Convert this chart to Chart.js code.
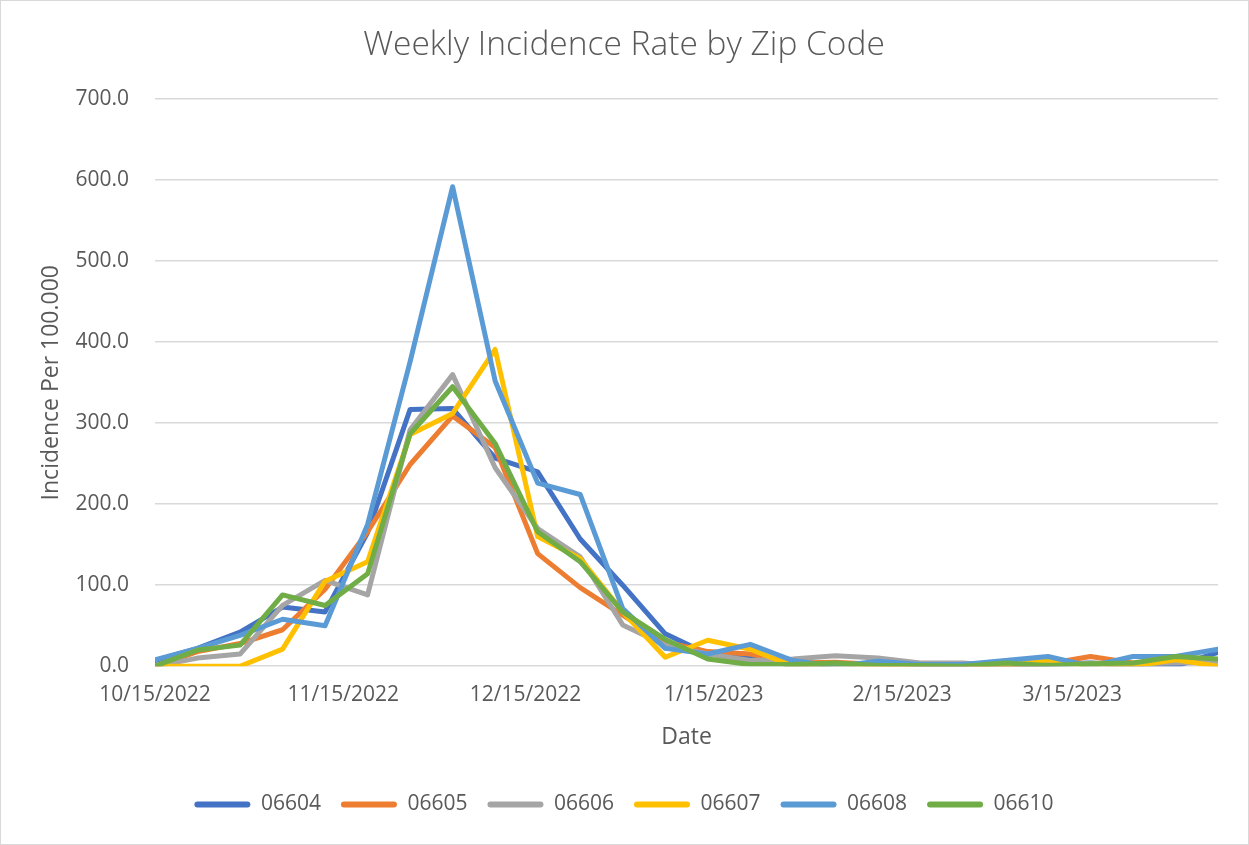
<!DOCTYPE html>
<html>
<head>
<meta charset="utf-8">
<script src="https://cdn.jsdelivr.net/npm/chart.js@4/dist/chart.umd.min.js"></script>
<style>
  html, body { margin: 0; padding: 0; background: #fff; }
  #wrap { width: 1249px; height: 845px; }
</style>
</head>
<body>
<div id="wrap"><canvas id="chart" width="1249" height="845"></canvas></div>
<script>
const weeks = ['10/15/2022', '10/22/2022', '10/29/2022', '11/5/2022', '11/12/2022', '11/19/2022', '11/26/2022',
    '12/3/2022', '12/10/2022', '12/17/2022', '12/24/2022', '12/31/2022', '1/7/2023', '1/14/2023', '1/21/2023',
    '1/28/2023', '2/4/2023', '2/11/2023', '2/18/2023', '2/25/2023', '3/4/2023', '3/11/2023', '3/18/2023',
    '3/25/2023', '4/1/2023', '4/8/2023'];
const tickDates = ['10/15/2022', '11/15/2022', '12/15/2022', '1/15/2023', '2/15/2023', '3/15/2023'];
const yTicks = [0, 100, 200, 300, 400, 500, 600, 700];

const zip06604 = [7, 22, 42, 73, 67, 165, 317, 318, 257, 240, 157, 100, 40, 15, 13, 0, 3, 3, 2, 0, 0, 2, 4, 0, 0, 17];
const zip06605 = [0, 18, 28, 45, 95, 166, 249, 309, 270, 139, 97, 63, 30, 18, 15, 4, 5, 2, 0, 0, 0, 3, 12, 4, 8, 2];
const zip06606 = [0, 10, 15, 75, 106, 88, 292, 360, 245, 170, 135, 51, 26, 15, 7, 9, 13, 10, 4, 4, 0, 2, 4, 3, 4, 5];
const zip06607 = [0, 0, 0, 21, 105, 129, 286, 312, 391, 160, 133, 67, 11, 32, 21, 0, 0, 0, 0, 0, 0, 8, 0, 0, 8, 0];
const zip06608 = [8, 22, 38, 58, 50, 175, 376, 592, 352, 226, 212, 71, 22, 15, 27, 7, 0, 6, 2, 2, 7, 12, 0, 12, 12, 21];
const zip06610 = [0, 20, 26, 88, 75, 114, 287, 345, 275, 166, 129, 67, 33, 9, 2, 2, 4, 1, 1, 0, 4, 1, 3, 4, 12, 9];

const seriesNames = ['06604', '06605', '06606', '06607', '06608', '06610'];
const seriesValues = [zip06604, zip06605, zip06606, zip06607, zip06608, zip06610];
const seriesColors = ['#4472C4', '#ED7D31', '#A5A5A5', '#FFC000', '#5B9BD5', '#70AD47'];

// m/d/yyyy -> day number
function toDay(s) {
    const [m, d, y] = s.split('/').map(Number);
    return Date.UTC(y, m - 1, d) / 86400000;
}

const textColor = '#595959';
const font = 'Open Sans';

const frame = {
    id: 'frame',
    beforeDraw(chart) {
        const c = chart.ctx;
        c.save();
        c.fillStyle = '#fff';
        c.fillRect(0, 0, chart.width, chart.height);
        c.restore();
    },
    afterDraw(chart) {
        const c = chart.ctx;
        c.save();
        c.strokeStyle = '#d9d9d9';
        c.lineWidth = 1;
        c.strokeRect(0.5, 0.5, chart.width - 1, chart.height - 1);
        c.restore();
    }
};

const datasets = seriesNames.map((name, i) => ({
    label: name,
    data: seriesValues[i].map((v, j) => ({ x: toDay(weeks[j]), y: v })),
    borderColor: seriesColors[i],
    backgroundColor: seriesColors[i],
    borderWidth: 5,
    borderJoinStyle: 'round',
    borderCapStyle: 'round',
    pointRadius: 0,
    tension: 0,
    order: seriesNames.length - i
}));

new Chart(document.getElementById('chart'), {
    type: 'line',
    data: { datasets: datasets },
    plugins: [frame],
    options: {
        responsive: false,
        animation: false,
        layout: { padding: { left: 30, right: 31, top: 0, bottom: 20 } },
        plugins: {
            title: {
                display: true,
                text: 'Weekly Incidence Rate by Zip Code',
                color: textColor,
                font: { family: font, size: 33.5, weight: '300' },
                padding: { top: 25, bottom: 34 }
            },
            legend: {
                position: 'bottom',
                labels: {
                    color: textColor,
                    font: { family: font, size: 21 },
                    boxWidth: 56,
                    boxHeight: 6,
                    padding: 20,
                    useBorderRadius: true,
                    borderRadius: 3,
                    sort: (a, b) => a.datasetIndex - b.datasetIndex,
                    generateLabels(chart) {
                        return Chart.defaults.plugins.legend.labels.generateLabels(chart)
                            .map(item => Object.assign(item, { lineWidth: 0 }));
                    }
                }
            },
            tooltip: { enabled: false }
        },
        scales: {
            x: {
                type: 'linear',
                min: toDay(weeks[0]),
                max: toDay(weeks[weeks.length - 1]),
                afterBuildTicks(scale) {
                    scale.ticks = tickDates.map(t => ({ value: toDay(t) }));
                },
                ticks: {
                    autoSkip: false,
                    maxRotation: 0,
                    color: textColor,
                    font: { family: font, size: 21 },
                    padding: 16,
                    callback(value) {
                        const hit = tickDates.find(t => toDay(t) === value);
                        return hit || '';
                    }
                },
                grid: { display: false, drawTicks: false },
                border: { display: false },
                title: {
                    display: true,
                    text: 'Date',
                    color: textColor,
                    font: { family: font, size: 23 },
                    padding: { top: 0, bottom: 23 }
                }
            },
            y: {
                min: 0,
                max: 700,
                afterBuildTicks(scale) {
                    scale.ticks = yTicks.map(v => ({ value: v }));
                },
                afterFit(scale) {
                    scale.width = 125;
                },
                ticks: {
                    color: textColor,
                    font: { family: font, size: 21 },
                    padding: 26,
                    callback: (v) => v.toFixed(1)
                },
                grid: { color: '#d9d9d9', lineWidth: 1.5, drawTicks: false },
                border: { display: false },
                title: {
                    display: true,
                    text: 'Incidence Per 100.000',
                    color: textColor,
                    font: { family: font, size: 23 },
                    padding: { top: 8, bottom: 0 }
                }
            }
        }
    }
});
</script>
</body>
</html>
